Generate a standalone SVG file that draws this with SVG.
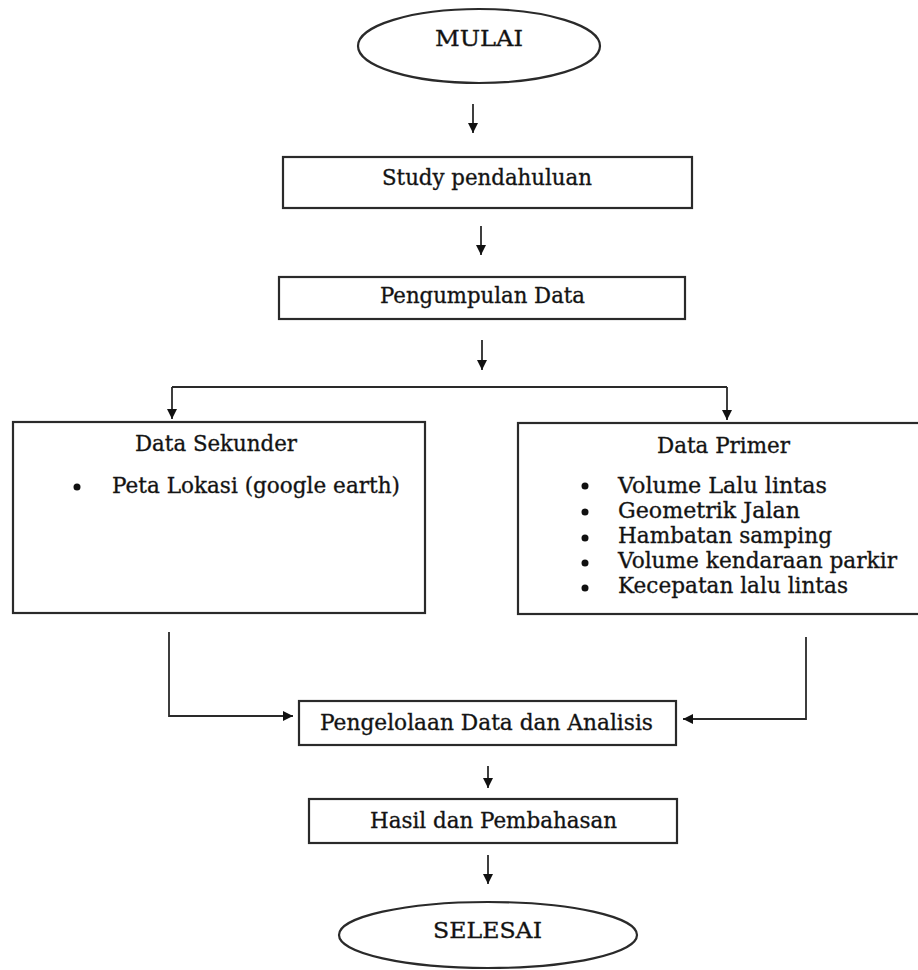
<svg xmlns="http://www.w3.org/2000/svg" width="918" height="970" viewBox="0 0 918 970">
<defs>
<style>
.box{fill:#fff;stroke:#2a2a2a;stroke-width:2.2}
.t{font-family:"DejaVu Serif","Liberation Serif",serif;font-size:22px;fill:#111;stroke:#222;stroke-width:0.35}
.c{fill:none;stroke:#2a2a2a;stroke-width:1.8}
.dot{fill:#111}
</style>
<marker id="ah" viewBox="0 0 10 10" refX="10" refY="5" markerWidth="11" markerHeight="10" markerUnits="userSpaceOnUse" orient="auto">
<path d="M0,0 L10,5 L0,10 Z" fill="#111"/>
</marker>
</defs>
<rect width="918" height="970" fill="#fff"/>

<g id="mulai">
<ellipse class="box" cx="479" cy="46" rx="121" ry="37"/>
<text class="t" x="435" y="46" textLength="88" lengthAdjust="spacingAndGlyphs">MULAI</text>
</g>

<g id="study">
<rect class="box" x="283" y="157" width="409" height="51"/>
<text class="t" x="382" y="185" textLength="210" lengthAdjust="spacingAndGlyphs">Study pendahuluan</text>
</g>

<g id="pengumpulan">
<rect class="box" x="279" y="277" width="406" height="42"/>
<text class="t" x="380" y="303" textLength="205" lengthAdjust="spacingAndGlyphs">Pengumpulan Data</text>
</g>

<g id="sekunder">
<rect class="box" x="13" y="422" width="412" height="191"/>
<text class="t" x="135" y="451" textLength="162" lengthAdjust="spacingAndGlyphs">Data Sekunder</text>
<circle class="dot" cx="77" cy="487" r="3.5"/>
<text class="t" x="112" y="493" textLength="288" lengthAdjust="spacingAndGlyphs">Peta Lokasi (google earth)</text>
</g>

<g id="primer">
<rect class="box" x="518" y="423" width="410" height="191"/>
<text class="t" x="657" y="453" textLength="133" lengthAdjust="spacingAndGlyphs">Data Primer</text>
<circle class="dot" cx="585" cy="486" r="3.5"/>
<text class="t" x="618" y="493" textLength="209" lengthAdjust="spacingAndGlyphs">Volume Lalu lintas</text>
<circle class="dot" cx="585" cy="512" r="3.5"/>
<text class="t" x="618" y="518" textLength="182" lengthAdjust="spacingAndGlyphs">Geometrik Jalan</text>
<circle class="dot" cx="585" cy="538" r="3.5"/>
<text class="t" x="618" y="543" textLength="214" lengthAdjust="spacingAndGlyphs">Hambatan samping</text>
<circle class="dot" cx="585" cy="563" r="3.5"/>
<text class="t" x="618" y="568" textLength="279" lengthAdjust="spacingAndGlyphs">Volume kendaraan parkir</text>
<circle class="dot" cx="585" cy="588" r="3.5"/>
<text class="t" x="618" y="593" textLength="230" lengthAdjust="spacingAndGlyphs">Kecepatan lalu lintas</text>
</g>

<g id="pengelolaan">
<rect class="box" x="299" y="701" width="377" height="44"/>
<text class="t" x="320" y="730" textLength="333" lengthAdjust="spacingAndGlyphs">Pengelolaan Data dan Analisis</text>
</g>

<g id="hasil">
<rect class="box" x="309" y="799" width="368" height="44"/>
<text class="t" x="370" y="828" textLength="247" lengthAdjust="spacingAndGlyphs">Hasil dan Pembahasan</text>
</g>

<g id="selesai">
<ellipse class="box" cx="488" cy="935" rx="149" ry="33"/>
<text class="t" x="433" y="938" textLength="109" lengthAdjust="spacingAndGlyphs">SELESAI</text>
</g>

<g id="connectors">
<path class="c" d="M473,104 V133" marker-end="url(#ah)"/>
<path class="c" d="M481,226 V255" marker-end="url(#ah)"/>
<path class="c" d="M482,340 V370" marker-end="url(#ah)"/>
<path class="c" d="M172,387 H727"/>
<path class="c" d="M172,387 V419" marker-end="url(#ah)"/>
<path class="c" d="M727,387 V420" marker-end="url(#ah)"/>
<path class="c" d="M169,632 V716 H293" marker-end="url(#ah)"/>
<path class="c" d="M806,637 V719 H683" marker-end="url(#ah)"/>
<path class="c" d="M488,766 V788" marker-end="url(#ah)"/>
<path class="c" d="M488,855 V884" marker-end="url(#ah)"/>
</g>
</svg>
